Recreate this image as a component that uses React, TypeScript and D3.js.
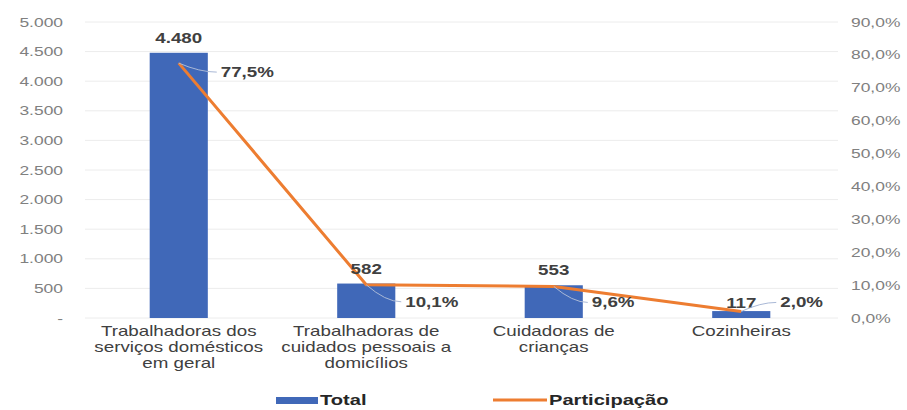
import React from "react";
import * as d3 from "d3";

const categories = [
  ["Trabalhadoras dos", "serviços domésticos", "em geral"],
  ["Trabalhadoras de", "cuidados pessoais a", "domicílios"],
  ["Cuidadoras de", "crianças"],
  ["Cozinheiras"],
];
const totals = [4480, 582, 553, 117];
const totalLabels = ["4.480", "582", "553", "117"];
const shares = [77.5, 10.1, 9.6, 2.0];
const shareLabels = ["77,5%", "10,1%", "9,6%", "2,0%"];
const leftTicks = [0, 500, 1000, 1500, 2000, 2500, 3000, 3500, 4000, 4500, 5000];
const leftTickLabels = ["-", "500", "1.000", "1.500", "2.000", "2.500", "3.000", "3.500", "4.000", "4.500", "5.000"];
const rightTicks = [0, 10, 20, 30, 40, 50, 60, 70, 80, 90];
const rightTickLabels = ["0,0%", "10,0%", "20,0%", "30,0%", "40,0%", "50,0%", "60,0%", "70,0%", "80,0%", "90,0%"];

const W = 907, H = 410;
const BLUE = "#4068b8";
const ORANGE = "#ED7D31";
const FONT = "Liberation Sans, Arial, sans-serif";
const SX = 1.34;

function T(props: {
  x: number; y: number; anchor?: string; size: number; bold?: boolean; fill: string; dy?: string; children: React.ReactNode;
}) {
  return (
    <text
      transform={`translate(${props.x},${props.y}) scale(${SX},1)`}
      textAnchor={props.anchor || "start"}
      fontSize={props.size}
      fontWeight={props.bold ? "bold" : "normal"}
      fill={props.fill}
      dy={props.dy}
    >
      {props.children}
    </text>
  );
}

export default function App() {
  const idx = categories.map((_, i) => i);
  const x = d3.scaleBand<number>().domain(idx).range([85, 835]).paddingInner(0.69).paddingOuter(0.345);
  const yL = d3.scaleLinear().domain([0, 5000]).range([318, 22]);
  const yR = d3.scaleLinear().domain([0, 90]).range([318, 22]);
  const cx = (i: number) => (x(i) as number) + x.bandwidth() / 2;
  const line = d3.line<number>().x((_, i) => cx(i)).y((d) => yR(d));

  const shareLabelPos = [
    { dx: 42, dy: 9 },
    { dx: 39, dy: 17 },
    { dx: 38, dy: 16 },
    { dx: 39, dy: -9 },
  ];
  const totalOffsets = [-10, -10, -10, -3];

  return (
    <svg width={W} height={H} style={{ position: "absolute", left: 0, top: 0, background: "#fff" }} fontFamily={FONT}>
      {leftTicks.map((t) => (
        <line key={"g" + t} x1={85} x2={838} y1={yL(t)} y2={yL(t)} stroke="#ececec" strokeWidth={1} />
      ))}
      {leftTicks.map((t, i) => (
        <T key={"l" + t} x={63} y={yL(t)} dy="0.35em" anchor="end" size={13} fill="#808080">
          {leftTickLabels[i]}
        </T>
      ))}
      {rightTicks.map((t, i) => (
        <T key={"r" + t} x={851} y={yR(t)} dy="0.35em" size={13} fill="#808080">
          {rightTickLabels[i]}
        </T>
      ))}
      {totals.map((v, i) => (
        <rect key={"b" + i} x={x(i)} y={yL(v)} width={x.bandwidth()} height={yL(0) - yL(v)} fill={BLUE} />
      ))}
      <path d={line(shares) || ""} fill="none" stroke={ORANGE} strokeWidth={3} strokeLinejoin="round" />
      {totals.map((v, i) => (
        <T key={"bt" + i} x={cx(i)} y={yL(v) + totalOffsets[i]} anchor="middle" size={14} bold fill="#404040">
          {totalLabels[i]}
        </T>
      ))}
      {shares.map((v, i) => {
        const p = shareLabelPos[i];
        const px = cx(i), py = yR(v);
        return (
          <g key={"s" + i}>
            <path
              d={`M${px},${py} Q${px + p.dx * 0.5},${py + p.dy} ${px + p.dx - 4},${py + p.dy}`}
              fill="none"
              stroke="#a9b8d6"
              strokeWidth={1}
            />
            <T x={px + p.dx} y={py + p.dy} dy="0.35em" size={14} bold fill="#404040">
              {shareLabels[i]}
            </T>
          </g>
        );
      })}
      {categories.map((lines, i) => (
        <text
          key={"c" + i}
          transform={`translate(${cx(i)},336) scale(${SX},1)`}
          textAnchor="middle"
          fontSize={14}
          fill="#404040"
        >
          {lines.map((s, j) => (
            <tspan key={j} x={0} dy={j === 0 ? 0 : 16}>
              {s}
            </tspan>
          ))}
        </text>
      ))}
      <rect x={276} y={397} width={42} height={7} fill={BLUE} />
      <T x={320} y={405} size={15} bold fill="#262626">Total</T>
      <line x1={493} x2={547} y1={400} y2={400} stroke={ORANGE} strokeWidth={3} />
      <T x={549} y={405} size={15} bold fill="#262626">Participação</T>
    </svg>
  );
}
